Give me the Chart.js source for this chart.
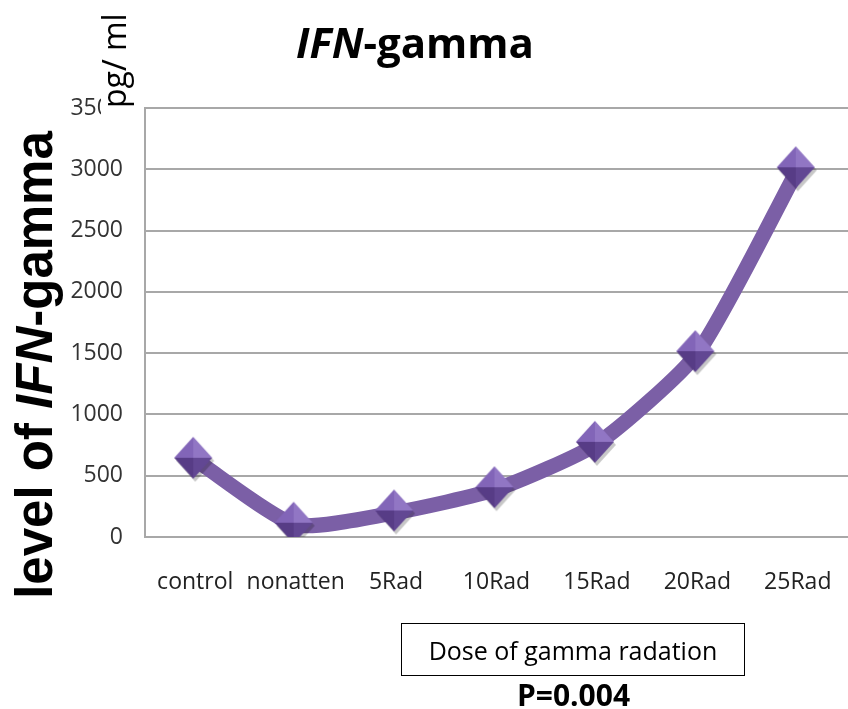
<!DOCTYPE html>
<html>
<head>
<meta charset="utf-8">
<script src="https://cdn.jsdelivr.net/npm/chart.js@4"></script>
<style>
  body { margin: 0; background: #fff; }
  #wrap { position: relative; width: 848px; height: 709px; }
  #doseBox {
    position: absolute; left: 401px; top: 623px; width: 342px; height: 51px;
    border: 1.5px solid #000; font-family: "Open Sans", sans-serif; font-size: 25px;
    display: flex; align-items: center; justify-content: center; color: #000;
  }
  #pval {
    position: absolute; left: 401px; width: 345px; top: 674px; text-align: center;
    font-family: "Open Sans", sans-serif; font-weight: bold; font-size: 30px; color: #000;
  }
</style>
</head>
<body>
<div id="wrap">
  <canvas id="myLineChart" width="848" height="709"></canvas>
  <div id="doseBox">Dose of gamma radation</div>
  <div id="pval">P=0.004</div>
</div>
<script>
// =============================DATA
let doses = ["control", "nonatten", "5Rad", "10Rad", "15Rad", "20Rad", "25Rad"];
let ifnLevels = [630, 100, 200, 390, 760, 1500, 3000];
let yTicks = [0, 500, 1000, 1500, 2000, 2500, 3000, 3500];

let purple = '#7b5fa6';

// diamond marker with 4 shaded faces, like the excel one
function makeDiamond() {
    let c = document.createElement('canvas');
    c.width = 46; c.height = 50;
    let g = c.getContext('2d');
    let cx = 21, cy = 23, rx = 19, ry = 21;
    // shadow
    g.fillStyle = 'rgba(0,0,0,0.22)';
    g.beginPath();
    g.moveTo(cx + 2, cy - ry + 3); g.lineTo(cx + rx + 2, cy + 3);
    g.lineTo(cx + 2, cy + ry + 3); g.lineTo(cx - rx + 2, cy + 3);
    g.closePath(); g.fill();
    let faces = [
        ['#9176c4', [cx, cy - ry], [cx + rx, cy]],   // top-right
        ['#8265b8', [cx - rx, cy], [cx, cy - ry]],   // top-left
        ['#624793', [cx + rx, cy], [cx, cy + ry]],   // bottom-right
        ['#573c86', [cx, cy + ry], [cx - rx, cy]]    // bottom-left
    ];
    faces.forEach(f => {
        g.fillStyle = f[0];
        g.beginPath();
        g.moveTo(cx, cy); g.lineTo(f[1][0], f[1][1]); g.lineTo(f[2][0], f[2][1]);
        g.closePath(); g.fill();
    });
    return c;
}

// title, y-axis title and unit drawn by hand (mixed italic text)
let textPlugin = {
    id: 'texts',
    afterDraw(chart) {
        let ctx = chart.ctx;
        ctx.save();
        ctx.fillStyle = '#000';
        ctx.textBaseline = 'alphabetic';

        // title: IFN italic, -gamma normal
        let f1 = 'italic bold 42px "Open Sans"';
        let f2 = 'bold 42px "Open Sans"';
        ctx.font = f1; let w1 = ctx.measureText('IFN').width;
        ctx.font = f2; let w2 = ctx.measureText('-gamma').width;
        let x0 = 415 - (w1 + w2) / 2;
        ctx.font = f1; ctx.fillText('IFN', x0, 58);
        ctx.font = f2; ctx.fillText('-gamma', x0 + w1, 58);

        // y label rotated
        ctx.save();
        ctx.translate(52, 365);
        ctx.rotate(-Math.PI / 2);
        let parts = [['level of ', 'bold 51px "Liberation Sans"'], ['IFN', 'italic bold 51px "Liberation Sans"'], ['-gamma', 'bold 51px "Liberation Sans"']];
        let total = 0;
        parts.forEach(p => { ctx.font = p[1]; p.push(ctx.measureText(p[0]).width); total += p[2]; });
        let px = -total / 2;
        parts.forEach(p => { ctx.font = p[1]; ctx.fillText(p[0], px, 0); px += p[2]; });
        ctx.restore();

        // unit, with white box behind (it hides the end of the top tick)
        ctx.save();
        ctx.translate(126, 108);
        ctx.rotate(-Math.PI / 2);
        ctx.font = '32px "Open Sans"';
        let uw = ctx.measureText('pg/ ml').width;
        ctx.fillStyle = '#fff';
        ctx.fillRect(-14, -25, uw + 14, 32);
        ctx.fillStyle = '#000';
        ctx.fillText('pg/ ml', 0, 0);
        ctx.restore();

        ctx.restore();
    }
};

let ctx = document.getElementById('myLineChart').getContext('2d');
let myLineChart = new Chart(ctx, {
    type: 'line',
    data: {
        labels: doses,
        datasets: [{
            label: 'IFN-gamma',
            data: ifnLevels,
            borderColor: purple,
            borderWidth: 15,
            tension: 0.2,
            pointStyle: makeDiamond(),
            pointRadius: 20,
            pointHoverRadius: 20,
            fill: false
        }]
    },
    options: {
        responsive: false,
        animation: false,
        layout: { autoPadding: false, padding: { top: 108, right: 0, left: 0, bottom: 0 } },
        plugins: {
            legend: { display: false },
            tooltip: { enabled: false }
        },
        scales: {
            x: {
                offset: true,
                grid: { display: false, drawTicks: false },
                border: { display: false },
                ticks: {
                    padding: 32,
                    color: '#222',
                    font: { family: 'Open Sans', size: 23 },
                    maxRotation: 0,
                    autoSkip: false
                },
                afterFit(scale) {
                    scale.height = 172;
                    scale.paddingLeft = 0; scale.paddingRight = 0;
                }
            },
            y: {
                min: 0,
                max: 3500,
                afterBuildTicks(scale) { scale.ticks = yTicks.map(v => ({ value: v })); },
                grid: { color: '#a8a8a8', lineWidth: 2, drawTicks: false },
                border: { display: true, color: '#a8a8a8', width: 2 },
                ticks: {
                    padding: 22,
                    color: '#333',
                    font: { family: 'Open Sans', size: 23 },
                    callback: v => String(v)
                },
                afterFit(scale) {
                    scale.width = 145;
                    scale.paddingTop = 0; scale.paddingBottom = 0;
                }
            }
        }
    },
    plugins: [textPlugin]
});
</script>
</body>
</html>
